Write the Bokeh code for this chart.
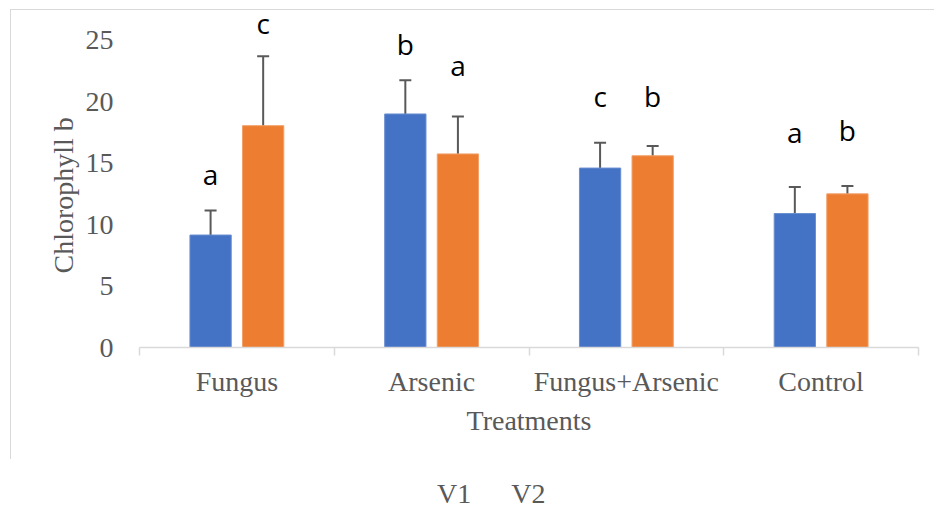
import numpy as np
from bokeh.plotting import figure
from bokeh.layouts import column
from bokeh.models import (ColumnDataSource, CDSView, IndexFilter, Range1d, FixedTicker,
                          Whisker, TeeHead, LabelSet, Legend, LegendItem, Title,
                          CustomJSTickFormatter)
from bokeh.core.properties import value
from bokeh.embed import file_html
from bokeh.resources import INLINE

# Chlorophyll b by treatment for two varieties
categories = ["Fungus", "Arsenic", "Fungus+Arsenic", "Control"]
series = ["V1", "V2"]
v1_mean = [9.15, 19.0, 14.6, 10.9]
v1_err = [2.0, 2.75, 2.05, 2.15]
v2_mean = [18.05, 15.75, 15.6, 12.5]
v2_err = [5.65, 3.05, 0.8, 0.65]
v1_letters = ["a", "b", "c", "a"]
v2_letters = ["c", "a", "b", "b"]
v1_letter_y = [13.2, 23.8, 19.6, 16.6]
v2_letter_y = [25.5, 22.1, 19.55, 16.8]
y_ticks = [0, 5, 10, 15, 20, 25]

BLUE = "#4472C4"
ORANGE = "#ED7D31"
GREY_TEXT = "#595959"
GREY_LINE = "#D9D9D9"
SERIF = "Liberation Serif"

n = len(categories)
centers = np.arange(n) + 0.5
offset = 0.135
bar_w = 0.212

p = figure(width=924, height=450, output_backend="svg", toolbar_location=None,
           x_range=Range1d(0, n), y_range=Range1d(0, 27.42),
           min_border_left=128, min_border_right=17,
           min_border_top=0, min_border_bottom=113)
p.outline_line_color = None
p.xgrid.grid_line_color = None
p.ygrid.grid_line_color = None
p.background_fill_color = "white"
p.border_fill_color = "white"
# chart-area frame: top and left edges
p.margin = (9, 0, 0, 10)
p.styles = {"border-left": "1px solid #D9D9D9", "border-top": "1px solid #D9D9D9"}

src1 = ColumnDataSource(dict(x=centers - offset, top=v1_mean,
                             upper=np.array(v1_mean) + np.array(v1_err),
                             lower=np.array(v1_mean) - np.array(v1_err),
                             ly=v1_letter_y, txt=v1_letters))
src2 = ColumnDataSource(dict(x=centers + offset, top=v2_mean,
                             upper=np.array(v2_mean) + np.array(v2_err),
                             lower=np.array(v2_mean) - np.array(v2_err),
                             ly=v2_letter_y, txt=v2_letters))
bar_styles = [dict(fill_color=BLUE, line_color="#6A8ED0", line_width=1),
              dict(fill_color=ORANGE, line_color="#F2A06A", line_width=1)]

for src, st in zip((src1, src2), bar_styles):
    p.vbar(x="x", top="top", width=bar_w, bottom=0, source=src, **st)
    p.add_layout(Whisker(source=src, base="x", upper="upper", lower="lower",
                         line_color=GREY_TEXT, line_width=2,
                         upper_head=TeeHead(size=12, line_color=GREY_TEXT, line_width=2),
                         lower_head=TeeHead(size=12, line_color=GREY_TEXT, line_width=2)))
    p.add_layout(LabelSet(source=src, x="x", y="ly", text="txt",
                          text_align="center", text_baseline="alphabetic",
                          text_font=value("Open Sans"), text_font_size="28px",
                          text_color="black"))

# x axis: labels at category centres, ticks on the category boundaries
xa = p.xaxis[0]
xa.ticker = FixedTicker(ticks=list(centers), minor_ticks=list(np.arange(n + 1)))
xa.formatter = CustomJSTickFormatter(args=dict(names=categories),
                                     code="return names[Math.floor(tick)];")
xa.major_tick_line_color = None
xa.major_tick_out = 0
xa.major_tick_in = 0
xa.minor_tick_line_color = GREY_LINE
xa.minor_tick_line_width = 1.5
xa.minor_tick_out = 8
xa.minor_tick_in = 0
xa.axis_line_color = GREY_LINE
xa.axis_line_width = 1.5
xa.major_label_text_font = SERIF
xa.major_label_text_font_size = "28px"
xa.major_label_text_color = GREY_TEXT
xa.major_label_standoff = 10
xa.axis_label = "Treatments"
xa.axis_label_text_font = SERIF
xa.axis_label_text_font_size = "28px"
xa.axis_label_text_font_style = "normal"
xa.axis_label_text_color = GREY_TEXT
xa.axis_label_standoff = 5

ya = p.yaxis[0]
ya.ticker = FixedTicker(ticks=y_ticks)
ya.axis_line_color = None
ya.major_tick_line_color = None
ya.minor_tick_line_color = None
ya.major_tick_out = 0
ya.major_label_text_font = SERIF
ya.major_label_text_font_size = "28px"
ya.major_label_text_color = GREY_TEXT
ya.major_label_standoff = 26

p.add_layout(Title(text="Chlorophyll b", align="left", offset=74, standoff=8,
                   text_font=SERIF, text_font_size="28px", text_font_style="normal",
                   text_color=GREY_TEXT), "left")

# legend strip under the chart; its key renderers draw no rows (empty view)
leg = figure(width=924, height=71, output_backend="svg", toolbar_location=None,
             x_range=Range1d(100, 101), y_range=Range1d(100, 101),
             x_axis_location=None, y_axis_location=None,
             min_border_left=128, min_border_right=17,
             min_border_top=0, min_border_bottom=0)
leg.outline_line_color = None
leg.xgrid.grid_line_color = None
leg.ygrid.grid_line_color = None
leg.margin = (0, 0, 0, 10)
keys = [leg.vbar(x="x", top="top", width=bar_w, bottom=0, source=src,
                 view=CDSView(filter=IndexFilter(indices=[])), **st)
        for src, st in zip((src1, src2), bar_styles)]
legend = Legend(items=[LegendItem(label=s, renderers=[k]) for s, k in zip(series, keys)],
                orientation="horizontal", location=(279, 20),
                glyph_width=14, glyph_height=14, label_standoff=6, spacing=20,
                padding=0, margin=0, border_line_color=None,
                background_fill_alpha=0,
                label_text_font=SERIF, label_text_font_size="28px",
                label_text_color=GREY_TEXT)
leg.add_layout(legend, "center")

open("out.html", "w").write(file_html(column(p, leg), INLINE))
